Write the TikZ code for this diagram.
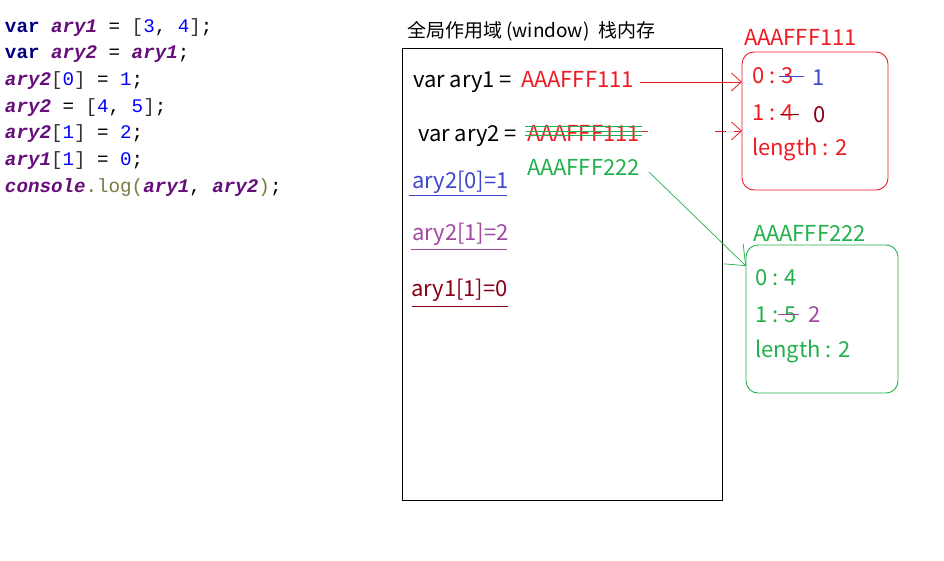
\documentclass[tikz,border=0pt]{standalone}
\usepackage{fontspec}
\setmainfont{Noto Sans CJK SC}
\newfontfamily\codefont{Liberation Mono}
\usetikzlibrary{arrows.meta,calc}
\definecolor{cred}{HTML}{ED1C24}
\definecolor{cgreen}{HTML}{22B14C}
\definecolor{cblue}{HTML}{3F48CC}
\definecolor{cpurple}{HTML}{A349A4}
\definecolor{cdred}{HTML}{880015}
\definecolor{kwnavy}{HTML}{000080}
\definecolor{jsvar}{HTML}{660E7A}
\definecolor{jsnum}{HTML}{0000FF}
\definecolor{jsfn}{HTML}{7A7A43}
\definecolor{jsbr}{HTML}{333333}
\newcommand\cKw[1]{\textcolor{kwnavy}{\bfseries #1}}
\newcommand\cVar[1]{\textcolor{jsvar}{\bfseries\itshape #1}}
\newcommand\cNum[1]{\textcolor{jsnum}{#1}}
\newcommand\cBr[1]{\textcolor{jsbr}{#1}}
\newcommand\cFn[1]{\textcolor{jsfn}{#1}}
\begin{document}
\begin{tikzpicture}[x=1pt,y=-1pt,
  every node/.style={inner sep=0pt,outer sep=0pt},
  codeln/.style={font=\codefont\fontsize{19.2}{23}\selectfont,anchor=base west},
  stk/.style={font=\fontsize{22}{26}\selectfont,anchor=base west},
  mem/.style={font=\fontsize{22}{26}\selectfont,anchor=base west},
  box/.style={draw,line width=0.9pt,anchor=north west},
  barb/.style={-{Straight Barb[length=10pt,width=18pt]}},
  bigbarb/.style={-{Straight Barb[length=17pt,width=28pt]}}
]
\fill[white] (0,0) rectangle (944,560);
\useasboundingbox (0,0) rectangle (944,560);

% code
\node[codeln] (c1) at (5,32) {\cKw{var} \cVar{ary1} = \cBr{[}\cNum{3}, \cNum{4}\cBr{]};};
\node[codeln] (c2) at (5,58.7) {\cKw{var} \cVar{ary2} = \cVar{ary1};};
\node[codeln] (c3) at (5,85.3) {\cVar{ary2}\cBr{[}\cNum{0}\cBr{]} = \cNum{1};};
\node[codeln] (c4) at (5,112) {\cVar{ary2} = \cBr{[}\cNum{4}, \cNum{5}\cBr{]};};
\node[codeln] (c5) at (5,138.7) {\cVar{ary2}\cBr{[}\cNum{1}\cBr{]} = \cNum{2};};
\node[codeln] (c6) at (5,165.3) {\cVar{ary1}\cBr{[}\cNum{1}\cBr{]} = \cNum{0};};
\node[codeln] (c7) at (5,192) {\cVar{console}\cFn{.log(}\cVar{ary1}, \cVar{ary2}\cFn{)};};

% stack
\node[font=\fontsize{19}{23}\selectfont,anchor=base west] (title) at (407,37) {全局作用域 (window)\ \ 栈内存};
\node[box,minimum width=320,minimum height=452] (stack) at (402,48) {};

\node[stk] (v1) at (413,87) {var ary1 =};
\node[stk,text=cred] (a1) at (521,87) {AAAFFF111};
\node[stk] (v2) at (418,141) {var ary2 =};
\node[stk,text=cred] (a2) at (527,141) {AAAFFF111};
\node[stk,text=cgreen] (g2) at (527,175) {AAAFFF222};

\draw[cgreen,line width=0.8pt] (525,126) -- (642,126);
\draw[cgreen,line width=0.8pt] (526,131) -- (642,131);
\draw[cgreen,line width=0.8pt] (525,135) -- (642,135);
\draw[cred,line width=0.8pt] (642,131) -- (648,131);

\node[stk,text=cblue] (s1) at (412,188) {ary2[0]=1};
\draw[cblue,line width=0.9pt] (409,195) -- (507,195);
\node[stk,text=cpurple] (s2) at (412,240) {ary2[1]=2};
\draw[cpurple,line width=0.9pt] (411,249) -- (507,249);
\node[stk,text=cdred] (s3) at (411,296) {ary1[1]=0};
\draw[cdred,line width=0.9pt] (412,306) -- (508,306);

% heap AAAFFF111
\node[mem,text=cred] (h1) at (744,45) {AAAFFF111};
\node[box,draw=cred,rounded corners=12,minimum width=146,minimum height=138] (rbox) at (742,52) {};
\node[mem,text=cred] (r0) at (752,83) {0 : 3};
\node[mem,text=cblue] (r0n) at (812,85) {1};
\draw[cblue,line width=0.9pt] (779,76) -- (804,76);
\node[mem,text=cred] (r1) at (752,120) {1 : 4};
\node[mem,text=cdred] (r1n) at (813,122) {0};
\draw[cdred,line width=0.9pt] (780,114) -- (799,114);
\node[mem,text=cred] (rl) at (752,155) {length : 2};

% heap AAAFFF222
\node[mem,text=cgreen] (h2) at (753,241) {AAAFFF222};
\node[box,draw=cgreen,rounded corners=12,minimum width=152,minimum height=148] (gbox) at (746,245) {};
\node[mem,text=cgreen] (g0) at (755,285) {0 : 4};
\node[mem,text=cgreen] (g1) at (755,322) {1 : 5};
\node[mem,text=cpurple] (g1n) at (808,322) {2};
\draw[cpurple,line width=0.9pt] (778,314) -- (799,314);
\node[mem,text=cgreen] (gl) at (755,357) {length : 2};

% connectors
\draw[cred,line width=0.8pt,barb] ($(a1.east)+(6,3)$) -- ($(a1.east -| rbox.west)+(0,3)$);
\draw[cred,line width=0.8pt,barb,dash pattern=on 11pt off 8pt] ($(a2.east -| rbox.west)+(-27,-2)$) -- ($(a2.east -| rbox.west)+(0,-2)$);
\draw[cgreen,line width=0.7pt,bigbarb] ($(g2.east)+(9,5)$) -- ($(gbox.north west)+(0,21)$);
\end{tikzpicture}
\end{document}
